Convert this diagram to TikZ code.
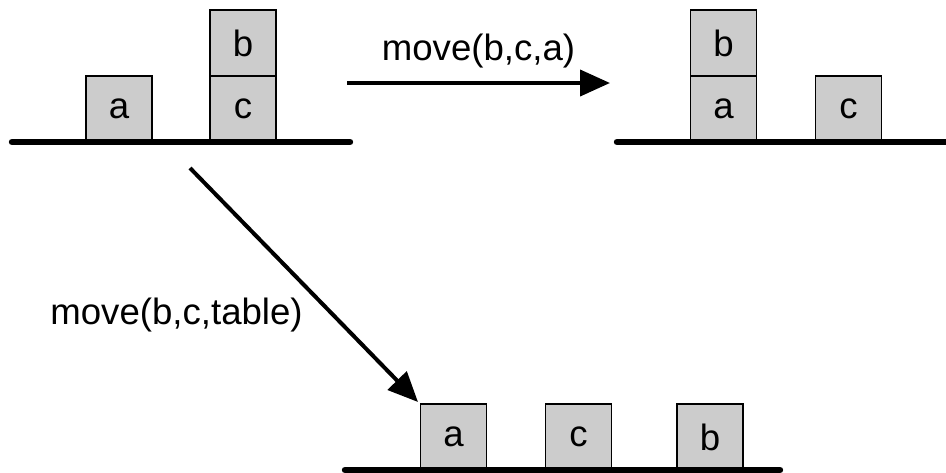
\documentclass[tikz,border=0pt]{standalone}
\usepackage{fontspec}
\setmainfont{Liberation Sans}
\def\blocksize{33pt}
\usetikzlibrary{positioning,arrows.meta}

\begin{document}
\begin{tikzpicture}
[x=0.5pt,y=-0.5pt,
 font=\fontsize{18.3}{20}\selectfont,
 block/.style={draw,line width=0.9pt,fill=black!20,minimum size=\blocksize,inner sep=0,outer sep=0},
 tableline/.style={line width=3.2pt,line cap=round},
 move/.style={-{Triangle[length=15pt,width=13pt]},line width=2pt}]
\useasboundingbox (0,0) rectangle (946,472);

% start state
\node[block] (a1) at (119,109) {a};
\node[block] (c1) at (243,109) {c};
\node[block,above=0pt of c1] (b1) {b};
\draw[tableline] (12,142) -- (350,142);

% after move(b,c,a)
\node[block] (a2) at (723.5,109) {a};
\node[block,above=0pt of a2] (b2) {b};
\node[block] (c2) at (848.5,109) {c};
\draw[tableline] (617,142) -- (952,142);

% after move(b,c,table)
\node[block] (a3) at (453.5,437) {a};
\node[block] (c3) at (578.5,437) {c};
\node[block] (b3) at (710,437) {b};
\draw[tableline] (345,470) -- (780,470);

\coordinate (from1) at (347,83);
\coordinate (to1) at (610,83);
\coordinate (from2) at (190,168);
\coordinate (to2) at (418,402);

\draw[move] (from1) -- node[above=3pt] {move(b,c,a)} (to1);
\draw[move] (from2) -- node[pos=0.63,left=12.5pt,inner sep=2pt] {move(b,c,table)} (to2);
\end{tikzpicture}
\end{document}
